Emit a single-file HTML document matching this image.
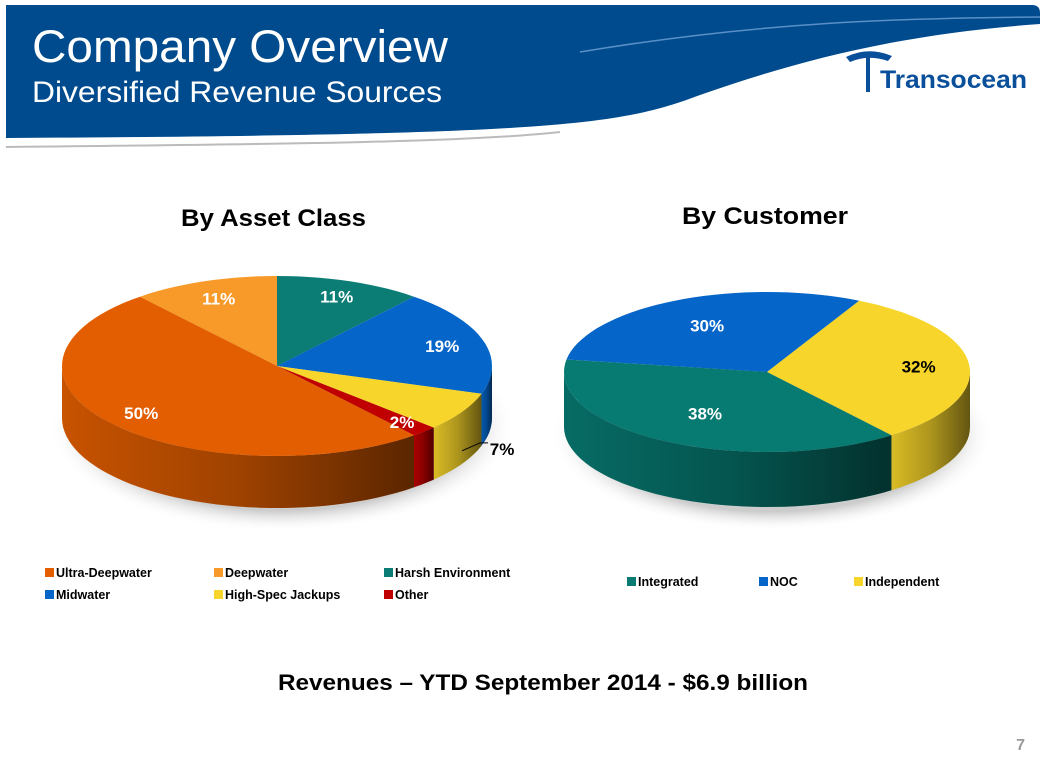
<!DOCTYPE html>
<html><head><meta charset="utf-8"><style>
body{margin:0;width:1046px;height:761px;background:#fff;overflow:hidden;font-family:"Liberation Sans",sans-serif;}
svg{position:absolute;left:0;top:0}
</style></head><body>
<svg width="1046" height="761" viewBox="0 0 1046 761">
<defs>
<linearGradient id="shade" x1="0" x2="1" y1="0" y2="0">
<stop offset="0" stop-color="#000" stop-opacity="0.12"/>
<stop offset="0.5" stop-color="#000" stop-opacity="0.3"/>
<stop offset="1" stop-color="#000" stop-opacity="0.6"/>
</linearGradient>
<radialGradient id="shadow" cx="0.5" cy="0.5" r="0.5"><stop offset="0.8" stop-color="#ccc"/><stop offset="1" stop-color="#fff" stop-opacity="0"/></radialGradient>
</defs>
<g>
<path d="M6,5 H1032 Q1040,5 1040,13 V24 C900,34 800,60 700,95 C620,125 560,135 6,138 Z" fill="#004b8d"/>
<path d="M580,52 C760,22 900,18 1040,17" stroke="#5a8fc7" stroke-width="1.5" fill="none"/>
<path d="M6,147 C300,144 470,142 560,132" stroke="#bbb" stroke-width="2" fill="none"/>
<text x="32" y="62" font-size="45" fill="#fff" textLength="416" lengthAdjust="spacingAndGlyphs">Company Overview</text>
<text x="32" y="102" font-size="30" fill="#fff" textLength="410" lengthAdjust="spacingAndGlyphs">Diversified Revenue Sources</text>
<g>
<path d="M846,57 Q868,46 892,56 L888,61 Q868,54 850,62 Z" fill="#0a4f9a"/>
<rect x="866" y="54" width="4" height="38" fill="#0a4f9a"/>
<text x="880" y="88" font-size="25" font-weight="bold" fill="#0a4f9a" textLength="147" lengthAdjust="spacingAndGlyphs">Transocean</text>
</g>
</g>
<text x="181" y="226" font-size="24" font-weight="bold" fill="#000" textLength="185" lengthAdjust="spacingAndGlyphs">By Asset Class</text>
<text x="682" y="224" font-size="24" font-weight="bold" fill="#000" textLength="166" lengthAdjust="spacingAndGlyphs">By Customer</text>
<g id="pie1"></g>
<g id="pie2"></g>
<g id="leg1"></g>
<g id="leg2"></g>
<text x="278" y="690" font-size="22" font-weight="bold" fill="#000" textLength="530" lengthAdjust="spacingAndGlyphs">Revenues – YTD September 2014 - $6.9 billion</text>
<text x="1025" y="750" font-size="16" font-weight="bold" text-anchor="end" fill="#999">7</text>
</svg>
<script>
const assetCats=["Ultra-Deepwater","Deepwater","Harsh Environment","Midwater","High-Spec Jackups","Other"];
const assetVals=[50,11,11,19,7,2];
const assetColors=["#e35e00","#f79a2a","#0b7d75","#0565c8","#f7d52a","#c00000"];
const custCats=["Integrated","NOC","Independent"];
const custVals=[38,30,32];
const custColors=["#077a72","#0565c8","#f7d52a"];
const NS="http://www.w3.org/2000/svg";
function mk(tag,attrs,parent){const e=document.createElementNS(NS,tag);for(const k in attrs)e.setAttribute(k,attrs[k]);parent.appendChild(e);return e;}
function pt(p,t,dy){const r=t*Math.PI/180;return [p.cx+p.rx*Math.sin(r),p.cy-p.ry*Math.cos(r)+(dy||0)];}
function arc(p,t1,t2,dy){let d="";const n=Math.max(2,Math.ceil(Math.abs(t2-t1)/3));for(let i=0;i<=n;i++){const q=pt(p,t1+(t2-t1)*i/n,dy);d+=(i?"L":"")+q[0].toFixed(1)+","+q[1].toFixed(1);}return d;}
function drawPie(g,p,vals,colors,order,start,labels){
  const total=vals.reduce((a,b)=>a+b,0);
  mk("ellipse",{cx:p.cx+5,cy:p.cy+p.depth+8,rx:p.rx+18,ry:p.ry+16,fill:"url(#shadow)"},g);
  let t=start;const segs=[];
  order.forEach(i=>{const s=vals[i]/total*360;segs.push({i,t1:t,t2:t+s});t+=s;});
  segs.forEach(s=>{
    for(const off of [0,360]){
      const a=Math.max(s.t1-off,90),b=Math.min(s.t2-off,270);
      if(b>a){
        const d="M"+arc(p,a,b,0)+"L"+arc(p,b,a,p.depth)+"Z";
        const side=mk("path",{d,fill:colors[s.i]},g);
        
        
        mk("path",{d,fill:"url(#shade)"},g);
      }
    }
  });
  segs.forEach(s=>{
    const d="M"+p.cx+","+p.cy+"L"+arc(p,s.t1,s.t2,0)+"Z";
    const sl=mk("path",{d,fill:colors[s.i]},g);
    
    
  });
  segs.forEach(s=>{
    const mid=(s.t1+s.t2)/2;
    const lab=labels[s.i];
    let q=pt({cx:p.cx,cy:p.cy,rx:p.rx*lab.f,ry:p.ry*lab.f},mid);
    if(lab.out){
      const e=pt(p,mid,p.depth*0.75);
      mk("path",{d:`M${e[0]},${e[1]} L${e[0]+18},${e[1]-8} L${e[0]+26},${e[1]-8}`,stroke:"#000",fill:"none"},g);
      q=[e[0]+40,e[1]-2];
    }
    const tx=mk("text",{x:q[0].toFixed(1),y:(q[1]+6).toFixed(1),"font-size":"17","font-weight":"bold","text-anchor":"middle",fill:lab.c},g);
    tx.textContent=Math.round(vals[s.i]/total*100)+"%";
    
    
  });
}
drawPie(document.getElementById("pie1"),{cx:277,cy:366,rx:215,ry:90,depth:52},assetVals,assetColors,[1,2,3,4,5,0],-39.6,
 [{f:0.82,c:"#fff"},{f:0.8,c:"#fff"},{f:0.82,c:"#fff"},{f:0.8,c:"#fff"},{f:0,c:"#000",out:true},{f:0.85,c:"#fff"}]);
drawPie(document.getElementById("pie2"),{cx:767,cy:372,rx:203,ry:80,depth:55},custVals,custColors,[1,2,0],-81,
 [{f:0.6,c:"#fff"},{f:0.65,c:"#fff"},{f:0.75,c:"#000"}]);
function legend(g,cats,colors,xs,y0,rowH,perRow){
  cats.forEach((c,i)=>{
    const x=xs[i%perRow],y=y0+Math.floor(i/perRow)*rowH;
    const gg=mk("g",{},g);
    
    
    mk("rect",{x,y:y-9,width:9,height:9,fill:colors[i]},gg);
    const t=mk("text",{x:x+11,y,"font-size":"12.5","font-weight":"bold",fill:"#000"},gg);
    t.textContent=c;
  });
}
legend(document.getElementById("leg1"),assetCats,assetColors,[45,214,384],577,22,3);
legend(document.getElementById("leg2"),custCats,custColors,[627,759,854],586,22,3);
</script>
</body></html>
